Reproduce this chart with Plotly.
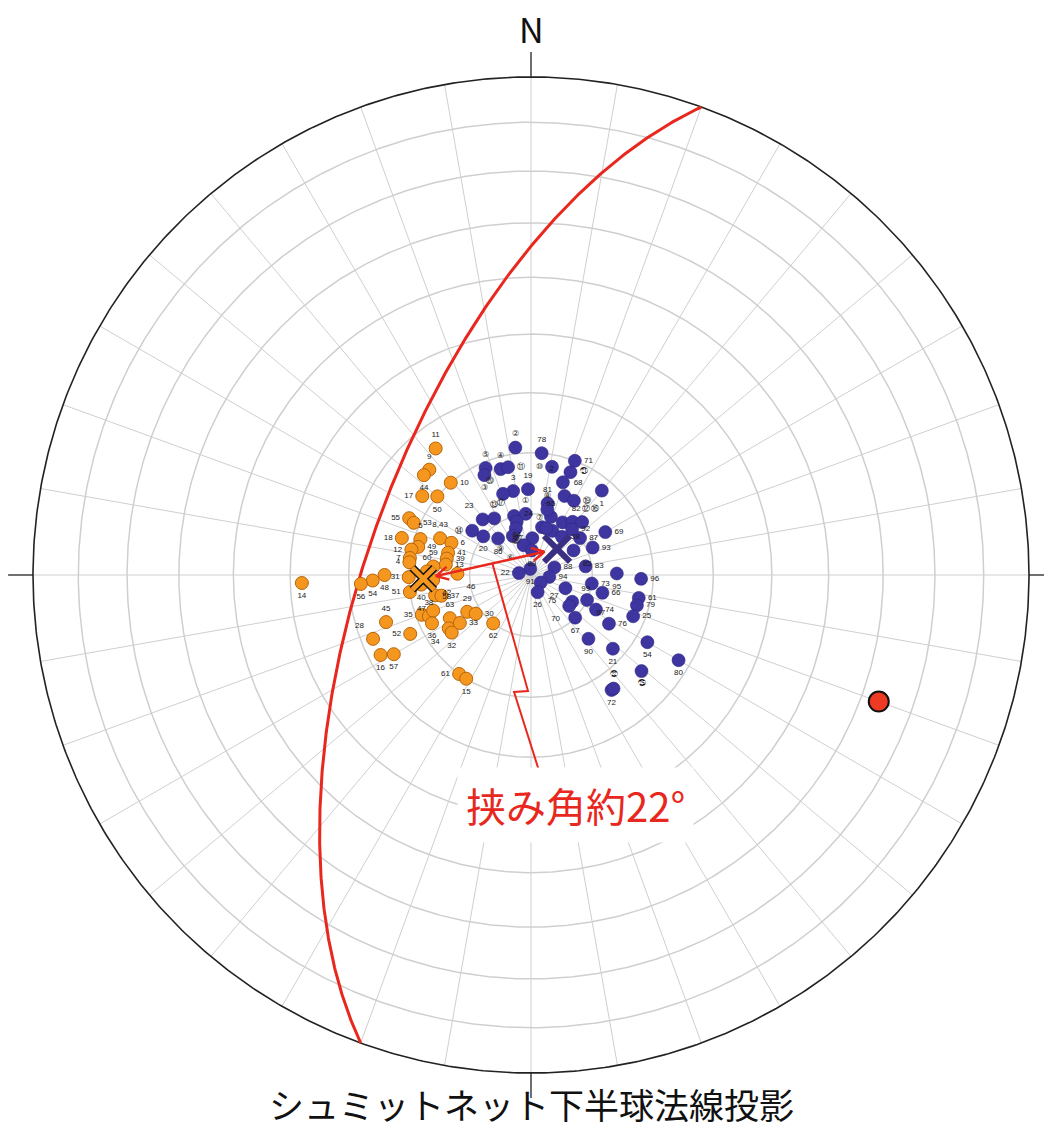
import numpy as np
import plotly.graph_objects as go

# ---------------- pole data: trend / plunge (degrees), lower hemisphere ----------------
orange_labels = ["11", "9", "44", "10", "17", "50", "55", "53", "5", "8,43",
                 "6", "18", "49", "12", "7", "4", "41", "39", "13", "59",
                 "60", "46", "42", "31", "40", "51", "47", "37", "48", "54",
                 "56", "14", "35", "38", "58", "36", "63", "34", "32", "33",
                 "29", "30", "62", "45", "28", "52", "16", "57", "61", "15"]
orange_trend = [323, 316, 313, 319, 306, 310, 295, 294, 288, 292,
                292, 286, 284, 282, 278, 276, 285, 281, 277, 275,
                272, 271, 267, 269, 265, 262, 258, 257, 270, 268,
                267, 268, 250, 248, 250, 244, 242, 237, 234, 236,
                240, 235, 218, 252, 248, 244, 242, 240, 216, 212]
orange_plunge = [64, 66, 66, 70, 68, 70, 68, 69, 71, 74,
                 76, 68, 71, 70, 70, 70, 76, 76, 76, 74,
                 73, 78, 74, 70, 72, 70, 74, 75, 66, 64,
                 62, 52, 71, 72, 73, 72, 75, 74, 74, 76,
                 78, 79, 80, 65, 62, 68, 62, 64, 70, 70]

blue_labels = ["②", "78", "71", "⑩", "㉑", "⑤", "③", "④", "⑪", "2",
               "68", "⑲", "1", "19", "3", "⑳", "81", "23", "⑬", "⑭",
               "20", "86", "⑰", "①", "84", "⑮", "24", "65", "82", "⑦",
               "⑧", "38", "⑫", "92", "⑯", "87", "69", "93", "85", "77",
               "⑥", "⑨", "89", "91", "22", "88", "83", "95", "96", "94",
               "27", "26", "75", "73", "66", "99", "70", "97", "74", "67",
               "76", "61", "79", "25", "90", "21", "54", "80", "㉕", "72",
               "㉒", ""]
blue_trend = [353, 5, 21, 11, 21, 337, 335, 344, 348, 19,
              23, 30, 40, 358, 348, 341, 13, 319, 327, 307,
              309, 318, 344, 355, 345, 342, 13, 19, 31, 26,
              14, 39, 38, 42, 44, 53, 60, 66, 60, 2,
              346, 335, 2, 353, 279, 72, 81, 89, 92, 96,
              128, 159, 111, 98, 104, 123, 129, 114, 118, 134,
              122, 102, 106, 112, 138, 132, 120, 120, 131, 145,
              144, 18]
blue_plunge = [69, 70, 70, 72, 72, 71, 72, 72, 72, 74,
               76, 76, 72, 76, 76, 76, 78, 78, 79, 78,
               80, 82, 80, 80, 81, 82, 82, 80, 80, 82,
               79, 82, 79, 80, 78, 80, 76, 79, 82, 84,
               85, 83, 86, 89, 88, 86, 81, 76, 72, 87,
               88, 87, 84, 80, 78, 82, 82, 80, 78, 80,
               75, 72, 72, 72, 76, 72, 68, 62, 66, 67,
               67, 82]

# mean poles of the two groups and the pole of the reference plane
orange_mean = (268, 72.4)
blue_mean = (45, 84.0)
plane_pole = (110, 26.6)
angle_text = "挟み角約22°"

# ---------------- projection (Schmidt / Lambert equal-area, unit primitive) ----------------
def project(trend, plunge):
    t = np.radians(np.asarray(trend, dtype=float))
    p = np.radians(np.asarray(plunge, dtype=float))
    w = np.sin(p)
    k = 1.0 / np.sqrt(1.0 + w)
    return np.cos(p) * np.sin(t) * k, np.cos(p) * np.cos(t) * k


def project_vec(e, n, d):
    k = 1.0 / np.sqrt(1.0 + d)
    return e * k, n * k


RED = "#e8281e"
GRID = "#cfcfcf"
FONT = "Noto Sans CJK JP"

fig = go.Figure()

# grid circles every 10 degrees of plunge
phi = np.linspace(0, 2 * np.pi, 721)
for colat in range(10, 90, 10):
    r = np.sqrt(2) * np.sin(np.radians(colat) / 2)
    fig.add_trace(go.Scatter(x=r * np.cos(phi), y=r * np.sin(phi), mode="lines",
                             line=dict(color=GRID, width=1.5), hoverinfo="skip"))
# radial lines every 10 degrees of azimuth
gx, gy = [], []
for az in range(0, 360, 10):
    a = np.radians(az)
    gx += [0, np.sin(a), None]
    gy += [0, np.cos(a), None]
fig.add_trace(go.Scatter(x=gx, y=gy, mode="lines", line=dict(color=GRID, width=1),
                         hoverinfo="skip"))
# primitive circle
fig.add_trace(go.Scatter(x=np.cos(phi), y=np.sin(phi), mode="lines",
                         line=dict(color="#222222", width=1.6), hoverinfo="skip"))
# cardinal ticks
tick = 0.05
tx = [0, 0, None, 0, 0, None, -1 - tick, -1, None, 1, 1 + tick]
ty = [1, 1 + tick, None, -1, -1 - tick, None, 0, 0, None, 0, 0]
fig.add_trace(go.Scatter(x=tx, y=ty, mode="lines", line=dict(color="#222222", width=1.3),
                         hoverinfo="skip"))

# great circle of the plane whose pole is plane_pole
pt, pp = np.radians(plane_pole[0]), np.radians(plane_pole[1])
nvec = np.array([np.cos(pp) * np.sin(pt), np.cos(pp) * np.cos(pt), np.sin(pp)])  # E, N, Down
strike = np.array([np.sin(pt + np.pi / 2), np.cos(pt + np.pi / 2), 0.0])
dipv = np.cross(nvec, strike)
if dipv[2] < 0:
    dipv = -dipv
s = np.linspace(0, np.pi, 400)
vec = np.outer(np.cos(s), strike) + np.outer(np.sin(s), dipv)
gcx, gcy = project_vec(vec[:, 0], vec[:, 1], np.clip(vec[:, 2], 0, 1))
fig.add_trace(go.Scatter(x=gcx, y=gcy, mode="lines", line=dict(color=RED, width=3),
                         hoverinfo="skip"))

# label placement for the point numbers
orange_pos = {"11": "top center", "9": "top center", "10": "middle right", "17": "middle left",
              "55": "middle left", "53": "middle right", "5": "top center", "8,43": "top center",
              "6": "middle right", "18": "middle left", "49": "middle right", "12": "middle left",
              "7": "middle left", "4": "middle left", "41": "middle right", "39": "middle right",
              "13": "middle right", "59": "top center", "60": "top center", "46": "bottom right",
              "42": "bottom right", "31": "middle left", "51": "middle left", "47": "bottom left",
              "37": "middle right", "35": "middle left", "38": "top center", "58": "top right",
              "63": "top center", "34": "bottom left", "33": "middle right", "29": "top center",
              "30": "middle right", "45": "top center", "28": "top left", "52": "middle left",
              "61": "middle left"}
blue_pos = {"②": "top center", "78": "top center", "71": "middle right", "⑩": "middle left",
            "㉑": "middle right", "⑤": "top center", "④": "top center", "⑪": "middle right",
            "2": "top left", "68": "top right", "⑲": "middle right", "19": "top center",
            "3": "top center", "⑳": "top left", "81": "top center", "23": "top left",
            "⑬": "top center", "⑭": "middle left", "⑰": "top left", "①": "top center",
            "24": "top left", "65": "top center", "82": "top right", "⑦": "top left",
            "⑧": "top center", "38": "middle right", "⑫": "top right", "92": "middle right",
            "⑯": "top right", "87": "middle right", "69": "middle right", "93": "middle right",
            "85": "bottom right", "77": "middle left", "⑥": "bottom left", "⑨": "bottom left",
            "22": "middle left", "88": "middle right", "83": "middle right", "96": "middle right",
            "94": "middle right", "27": "bottom right", "75": "bottom left", "73": "middle right",
            "66": "middle right", "99": "top right", "74": "middle right", "76": "middle right",
            "61": "middle right", "79": "middle right", "25": "middle right", "72": "bottom center",
            "㉒": "top center", "70": "bottom left", "97": "bottom right"}

label_font = dict(size=8, color="#1a1a1a", family="Liberation Sans")

ox, oy = project(orange_trend, orange_plunge)
fig.add_trace(go.Scatter(
    x=ox, y=oy, mode="markers+text", text=orange_labels,
    textposition=[orange_pos.get(l, "bottom center") for l in orange_labels],
    textfont=label_font,
    marker=dict(size=13, color="#f5961e", line=dict(color="#b8650a", width=1)),
    hoverinfo="skip"))

bx, by = project(blue_trend, blue_plunge)
fig.add_trace(go.Scatter(
    x=bx, y=by, mode="markers+text", text=blue_labels,
    textposition=[blue_pos.get(l, "bottom center") for l in blue_labels],
    textfont=label_font,
    marker=dict(size=13, color="#3f35a0", line=dict(color="#2e2780", width=0.6)),
    hoverinfo="skip"))

# plane pole
rx, ry = project([plane_pole[0]], [plane_pole[1]])
fig.add_trace(go.Scatter(x=rx, y=ry, mode="markers",
                         marker=dict(size=20, color="#ee3a22", line=dict(color="#111111", width=2)),
                         hoverinfo="skip"))

# mean poles: outlined orange cross and dark blue cross
mox, moy = project([orange_mean[0]], [orange_mean[1]])
mbx, mby = project([blue_mean[0]], [blue_mean[1]])
fig.add_trace(go.Scatter(x=mox, y=moy, mode="markers",
                         marker=dict(symbol="x-thin", size=22, line=dict(color="#111111", width=8)),
                         hoverinfo="skip"))
fig.add_trace(go.Scatter(x=mox, y=moy, mode="markers",
                         marker=dict(symbol="x-thin", size=22, line=dict(color="#f5961e", width=5)),
                         hoverinfo="skip"))
fig.add_trace(go.Scatter(x=mbx, y=mby, mode="markers",
                         marker=dict(symbol="x-thin", size=26, line=dict(color="#3a2f82", width=6)),
                         hoverinfo="skip"))

# double-headed arrow between the mean poles
A = np.array([mox[0], moy[0]])
B = np.array([mbx[0], mby[0]])
u = (B - A) / np.linalg.norm(B - A)
gap = 0.026
P, Q = A + u * gap, B - u * gap


def chevron(tip, d, length=0.028, ang=28):
    xs, ys = [], []
    for sgn in (1, -1):
        a = np.radians(sgn * ang)
        rot = np.array([d[0] * np.cos(a) - d[1] * np.sin(a), d[0] * np.sin(a) + d[1] * np.cos(a)])
        end = tip - rot * length
        xs.append(end[0])
        ys.append(end[1])
    return [xs[0], tip[0], xs[1]], [ys[0], tip[1], ys[1]]


cx1, cy1 = chevron(Q, u)
cx2, cy2 = chevron(P, -u)
fig.add_trace(go.Scatter(x=[P[0], Q[0], None] + cx1 + [None] + cx2,
                         y=[P[1], Q[1], None] + cy1 + [None] + cy2, mode="lines",
                         line=dict(color=RED, width=2.5), hoverinfo="skip"))

# leader from the arrow to the angle label, with a break mark
L0 = P + (Q - P) * 0.52
leader_x = [L0[0], -0.006, -0.034, 0.024]
leader_y = [L0[1], -0.233, -0.235, -0.418]
fig.add_trace(go.Scatter(x=leader_x, y=leader_y, mode="lines",
                         line=dict(color=RED, width=2), hoverinfo="skip"))

R_PX = 498.0
W, H = 1044, 1129
CX, CY = 531.0, 575.0

fig.update_layout(
    width=W, height=H, margin=dict(l=0, r=0, t=0, b=0),
    paper_bgcolor="white", plot_bgcolor="white", showlegend=False,
    xaxis=dict(range=[-CX / R_PX, (W - CX) / R_PX], visible=False, fixedrange=True),
    yaxis=dict(range=[-(H - CY) / R_PX, CY / R_PX], visible=False, fixedrange=True),
    annotations=[
        dict(x=0, y=(CY - 28) / R_PX, text="N", showarrow=False,
             font=dict(family=FONT, size=34, color="#111111")),
        dict(x=0, y=(CY - 1103) / R_PX, text="シュミットネット下半球法線投影", showarrow=False,
             font=dict(family=FONT, size=35, color="#111111")),
        dict(x=0.09, y=-0.462, text=angle_text, showarrow=False, bgcolor="white",
             borderpad=8, font=dict(family=FONT, size=40, color=RED)),
    ],
)

fig.write_html("out.html")
